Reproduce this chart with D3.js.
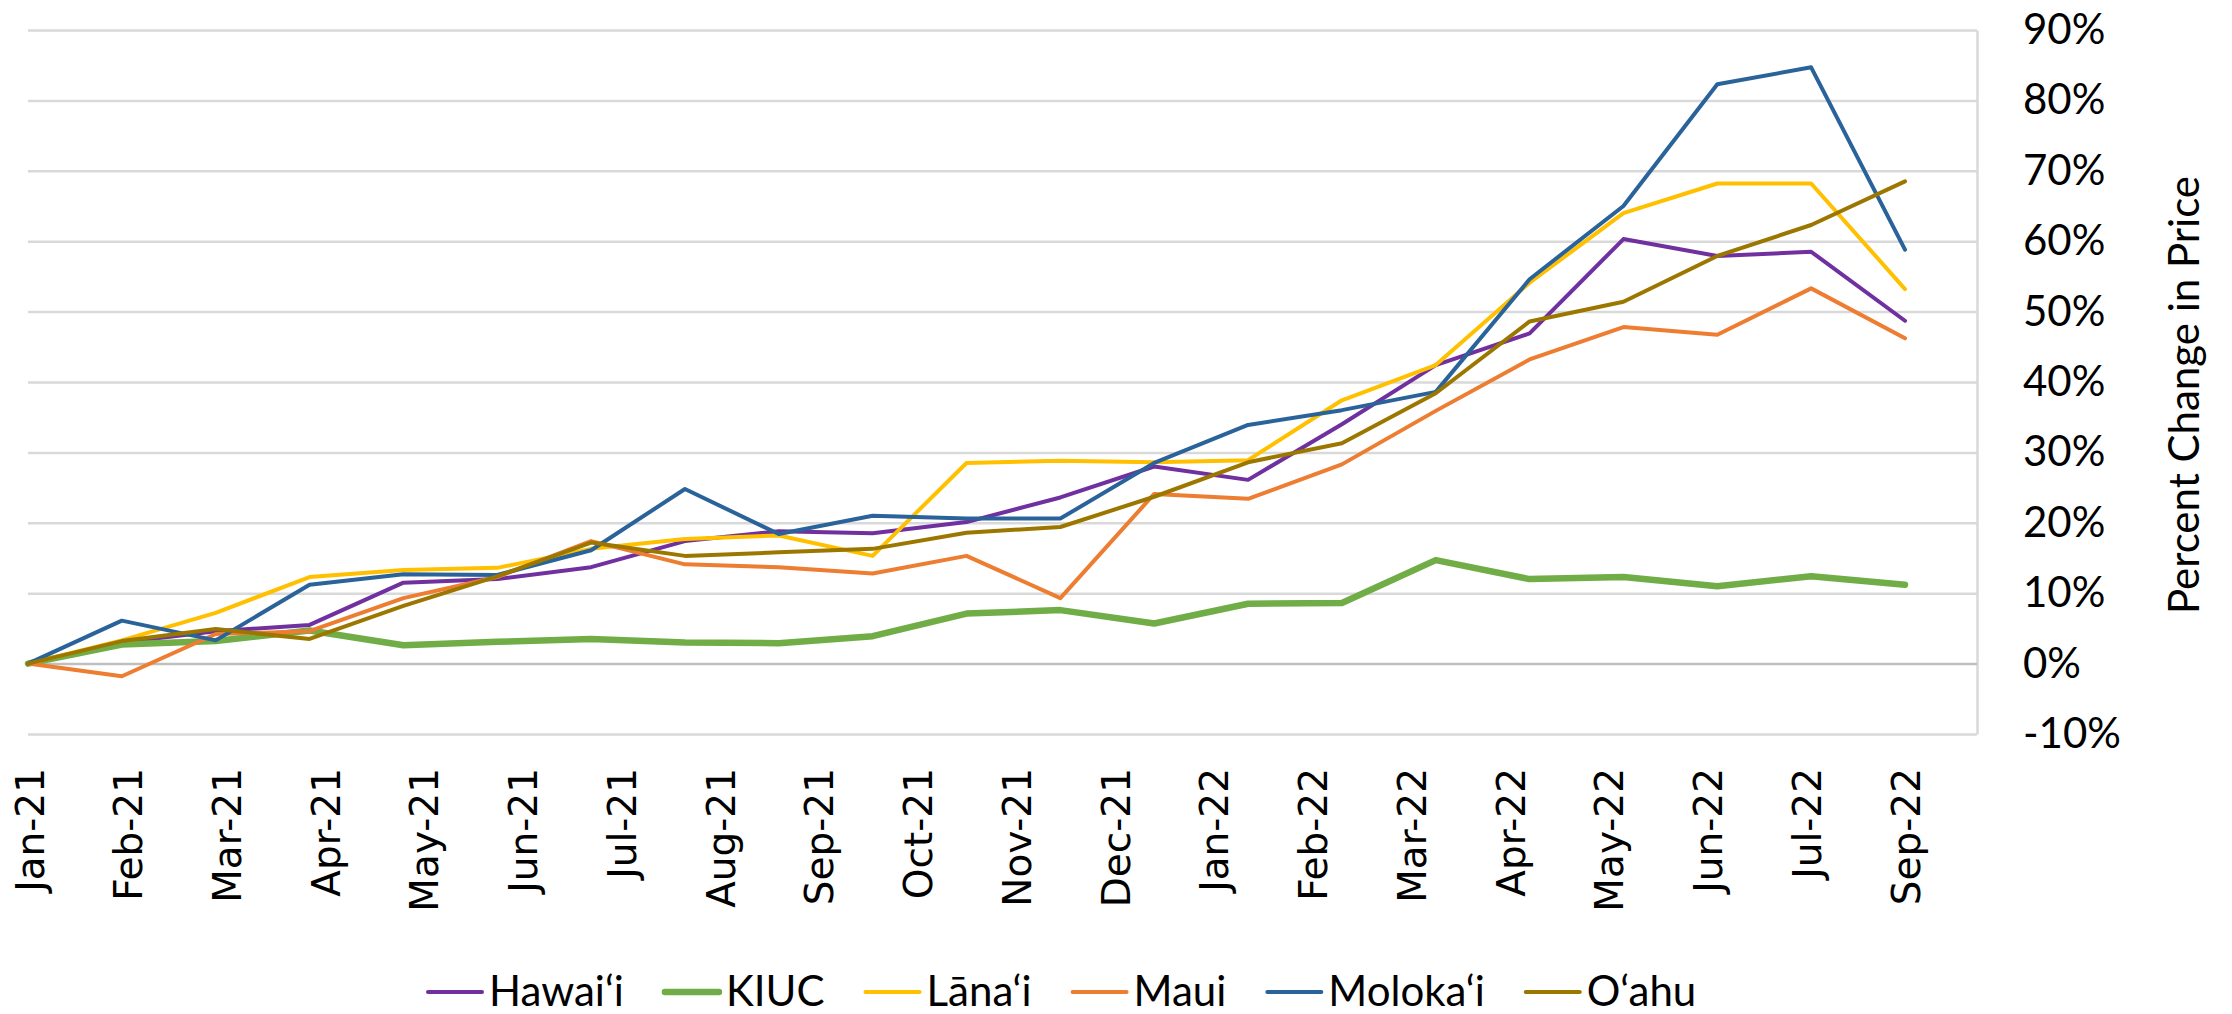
<!DOCTYPE html>
<html>
<head>
<meta charset="utf-8">
<script src="https://cdn.jsdelivr.net/npm/d3@7"></script>
<style>
  body { margin: 0; background: #fff; }
  svg { display: block; }
</style>
</head>
<body>
<svg id="chart" width="2232" height="1014"></svg>
<script>
// monthly points (21), Jan-21 .. Sep-22
const months = ["Jan-21", "Feb-21", "Mar-21", "Apr-21", "May-21", "Jun-21", "Jul-21",
  "Aug-21", "Sep-21", "Oct-21", "Nov-21", "Dec-21", "Jan-22", "Feb-22", "Mar-22",
  "Apr-22", "May-22", "Jun-22", "Jul-22", "Aug-22", "Sep-22"];

// tick labels as printed under the chart (Aug-22 is not shown)
const axisLabels = ["Jan-21", "Feb-21", "Mar-21", "Apr-21", "May-21", "Jun-21", "Jul-21",
  "Aug-21", "Sep-21", "Oct-21", "Nov-21", "Dec-21", "Jan-22", "Feb-22", "Mar-22",
  "Apr-22", "May-22", "Jun-22", "Jul-22", "Sep-22"];

const yTicks = [-10, 0, 10, 20, 30, 40, 50, 60, 70, 80, 90];

const seriesNames = ["Hawai\u2018i", "KIUC", "L\u0101na\u2018i", "Maui", "Moloka\u2018i", "O\u2018ahu"];

// percent change in price
const hawaii  = [0, 3.0, 4.6, 5.5, 11.5, 12.0, 13.7, 17.4, 18.8, 18.5, 20.1, 23.6, 28.0, 26.1, 34.0, 42.4, 46.9, 60.3, 57.9, 58.5, 48.7];
const kiuc    = [0, 2.7, 3.2, 4.7, 2.6, 3.1, 3.5, 3.0, 2.9, 3.9, 7.1, 7.6, 5.7, 8.5, 8.6, 14.7, 12.0, 12.3, 11.0, 12.4, 11.2];
const lanai   = [0, 3.3, 7.2, 12.3, 13.3, 13.6, 16.3, 17.7, 18.2, 15.3, 28.5, 28.8, 28.6, 28.9, 37.4, 42.4, 54.1, 64.0, 68.2, 68.2, 53.2];
const maui    = [0, -1.8, 4.2, 4.6, 9.3, 12.3, 17.4, 14.1, 13.7, 12.8, 15.3, 9.3, 24.1, 23.4, 28.3, 35.9, 43.2, 47.8, 46.7, 53.3, 46.2];
const molokai = [0, 6.1, 3.3, 11.2, 12.7, 12.6, 16.1, 24.8, 18.4, 21.0, 20.6, 20.6, 28.5, 33.9, 36.0, 38.6, 54.6, 65.0, 82.3, 84.7, 58.8];
const oahu    = [0, 3.2, 4.9, 3.5, 8.2, 12.4, 17.2, 15.3, 15.8, 16.3, 18.6, 19.4, 23.7, 28.6, 31.3, 38.4, 48.6, 51.4, 57.9, 62.3, 68.5];

const series = [hawaii, kiuc, lanai, maui, molokai, oahu]
  .map((values, i) => ({name: seriesNames[i], values}));

const color = d3.scaleOrdinal(seriesNames,
  ["#7030A0", "#70AD47", "#FFC000", "#ED7D31", "#2A6399", "#9C7700"]);
const strokeW = name => name === "KIUC" ? 6.5 : 4;

const svg = d3.select("#chart");
const width = +svg.attr("width");
const height = +svg.attr("height");

const plot = {left: 28, right: 1977, top: 30, bottom: 734};
const uiFont = "Lato, 'Open Sans', sans-serif";

svg.append("rect").attr("width", width).attr("height", height).attr("fill", "#fff");

const x = d3.scalePoint().domain(months).range([plot.left, 1905]);
const xLabel = d3.scalePoint().domain(axisLabels).range([29, 1905]);
const y = d3.scaleLinear().domain([-10, 90]).range([plot.bottom, plot.top]);

// Y-axis on the right, ticks stretched into gridlines
svg.append("g")
  .attr("transform", `translate(${plot.right}, 0)`)
  .call(d3.axisRight(y)
    .tickValues(yTicks)
    .tickSize(-(plot.right - plot.left))
    .tickSizeOuter(0)
    .tickPadding(46)
    .tickFormat(d => d + "%"))
  .call(g => g.select(".domain").attr("stroke", "#D9D9D9").attr("stroke-width", 2.5))
  .call(g => g.selectAll(".tick line")
    .attr("stroke", d => d === 0 ? "#BFBFBF" : "#D9D9D9")
    .attr("stroke-width", 2.5))
  .call(g => g.selectAll(".tick text")
    .attr("fill", "#000")
    .style("font-family", uiFont)
    .style("font-size", "42px"));

// X-axis labels, rotated
svg.append("g")
  .attr("transform", `translate(0, 768)`)
  .call(d3.axisBottom(xLabel).tickSize(0).tickPadding(0))
  .call(g => g.select(".domain").remove())
  .selectAll("text")
  .attr("y", 0)
  .attr("dy", "0.36em")
  .attr("transform", "rotate(-90)")
  .attr("text-anchor", "end")
  .attr("fill", "#000")
  .style("font-family", "'DejaVu Sans', Verdana, sans-serif")
  .style("font-size", "39px");

const line = d3.line()
  .x((d, i) => x(months[i]))
  .y(d => y(d));

svg.append("g")
  .selectAll("path")
  .data(series)
  .join("path")
  .attr("d", d => line(d.values))
  .attr("fill", "none")
  .attr("stroke", d => color(d.name))
  .attr("stroke-width", d => strokeW(d.name))
  .attr("stroke-linejoin", "round")
  .attr("stroke-linecap", "round");

svg.append("text")
  .attr("transform", "translate(2183, 395) rotate(-90)")
  .attr("text-anchor", "middle")
  .attr("dominant-baseline", "central")
  .style("font-family", uiFont)
  .style("font-size", "42px")
  .text("Percent Change in Price");

// legend along the bottom edge
const legend = svg.append("g");
let lx = 428;
series.forEach(s => {
  legend.append("line")
    .attr("x1", lx).attr("x2", lx + 54)
    .attr("y1", 992).attr("y2", 992)
    .attr("stroke", color(s.name))
    .attr("stroke-width", strokeW(s.name))
    .attr("stroke-linecap", "round");
  const t = legend.append("text")
    .attr("x", lx + 61)
    .attr("y", 1006)
    .style("font-family", uiFont)
    .style("font-size", "42px")
    .text(s.name);
  lx += 61 + t.node().getComputedTextLength() + 41;
});
</script>
</body>
</html>
